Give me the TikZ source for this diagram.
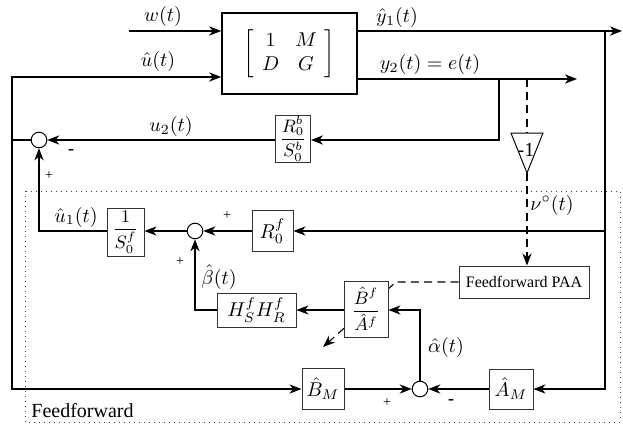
\documentclass[tikz,border=0pt]{standalone}
\usepackage{amsmath}
\usepackage[no-math]{fontspec}
\setmainfont{Liberation Serif}
\usetikzlibrary{arrows.meta,shapes.geometric}
\tikzset{
  wire/.style={line width=0.55pt},
  tip/.style={-{Stealth[length=6pt,width=4.6pt,inset=1.8pt]}},
  arr/.style={wire,tip},
  blk/.style={draw=black!80, line width=0.5pt, fill=white, inner sep=1pt},
  fracblk/.style={blk, inner sep=0.3pt, font=\fontsize{9}{10}\selectfont},
  sumnode/.style={circle, draw, line width=0.5pt, minimum size=7.8pt, inner sep=0pt, fill=white},
  sgn/.style={font=\fontsize{7}{8}\selectfont, inner sep=0pt},
  msgn/.style={font=\bfseries\fontsize{9}{10}\selectfont, inner sep=0pt},
  lbl/.style={inner sep=0pt},
  dsh/.style={wire, dash pattern=on 4pt off 2.6pt},
}
\begin{document}
\begin{tikzpicture}[x=0.5pt,y=-0.5pt]
\useasboundingbox (0,0) rectangle (623,428);

% feedforward frame
\draw[dotted, line width=0.5pt, black!75] (25,191) rectangle (620,422);
\node[anchor=west, inner sep=0pt] (fflbl) at (31,411) {Feedforward};

% plant
\node[draw, line width=0.8pt, minimum width=67.5pt, minimum height=40.5pt, inner sep=0pt] (plant) at (289.5,53.5)
  {$\arraycolsep=4pt\left[\begin{array}{cc}1 & M\\ D & G\end{array}\right]$};

% blocks
\node[fracblk, minimum width=17.5pt, minimum height=20.5pt] (rb) at (293,139) {$\dfrac{R_0^b}{S_0^b}$};
\node[sumnode] (sumA) at (39,140) {};
\node[fracblk, minimum width=18.5pt, minimum height=24pt] (sf) at (125.5,232) {$\dfrac{1}{S_0^f}$};
\node[sumnode] (sumB) at (195,231) {};
\node[blk, minimum width=20.5pt, minimum height=20.5pt] (rf) at (272.5,231) {$R_0^f$};
\node[blk, minimum width=39.5pt, minimum height=17pt] (hh) at (256.5,310) {$H_S^fH_R^f$};
\node[blk, minimum width=65pt, minimum height=16pt, font=\fontsize{8}{9}\selectfont] (paa) at (524,282) {Feedforward PAA};
\node[blk, minimum width=21pt, minimum height=20.5pt] (bm) at (323,389) {$\hat B_M$};
\node[sumnode] (sumC) at (420,389) {};
\node[blk, minimum width=22pt, minimum height=20pt] (am) at (511,389) {$\hat A_M$};

% inverter triangle
\coordinate (triT) at (527,133);
\coordinate (triA) at (527,173);
\draw[line width=0.5pt] (511,133) -- (543,133) -- (triA) -- cycle;
\node[lbl, font=\fontsize{10}{11}\selectfont] (trilbl) at (526,150) {-1};

% adaptation path (drawn under the adaptive block)
\coordinate (adK) at (396,282);
\coordinate (adE) at (323,347);
\draw[dsh,tip] (paa.west) -- (adK) -- (adE);
\node[fracblk, minimum width=22pt, minimum height=28pt] (baf) at (366,309) {$\dfrac{\hat B^f}{\hat A^f}$};

% coordinates
\coordinate (wIn) at (129,31);
\coordinate (uIn) at (12,77);
\coordinate (jL) at (12,140);
\coordinate (bmIn) at (12,389);
\coordinate (y1e) at (622,31);
\coordinate (jR) at (605,31);
\coordinate (eB) at (499,79);
\coordinate (eD) at (527,79);
\coordinate (y2e) at (577,79);
\coordinate (u1c) at (39,231);
\coordinate (bc) at (195,310);
\coordinate (ac) at (420,310);

% connectors
\draw[arr] (wIn) -- (wIn -| plant.west);
\draw[wire] (sumA.west) -- (jL);
\draw[arr] (jL) -- (uIn) -- (uIn -| plant.west);
\draw[arr] (jL) -- (bmIn) -- (bm.west);
\draw[arr] (plant.east |- jR) -- (y1e);
\draw[arr] (jR) |- (am.east);
\draw[arr] (jR |- rf) -- (rf.east);
\draw[arr] (plant.east |- eB) -- (y2e);
\draw[arr] (eB) |- (rb.east |- sumA);
\draw[arr] (rb.west |- sumA) -- (sumA.east);
\draw[dsh] (eD) -- (triT);
\draw[dsh,tip] (triA) -- (triA |- paa.north);
\draw[arr] (rf.west) -- (sumB.east);
\draw[arr] (sumB.west) -- (sf.east |- sumB);
\draw[arr] (sf.west |- sumB) -- (u1c) -- (sumA.south);
\draw[arr] (hh.west) -- (bc) -- (sumB.south);
\draw[arr] (baf.west |- hh) -- (hh.east);
\draw[arr] (sumC.north) -- (ac) -- (ac -| baf.east);
\draw[arr] (bm.east) -- (sumC.west);
\draw[arr] (am.west) -- (sumC.east);

% labels
\node[lbl] at (163,16) {$w(t)$};
\node[lbl] at (158,62) {$\hat u(t)$};
\node[lbl] at (397,18) {$\hat y_1(t)$};
\node[lbl] at (430,64) {$y_2(t)=e(t)$};
\node[lbl] at (171,127) {$u_2(t)$};
\node[lbl] at (552,205) {$\nu^{\circ}(t)$};
\node[lbl] at (76,217) {$\hat u_1(t)$};
\node[lbl] at (219,277) {$\hat\beta(t)$};
\node[lbl] at (446,347) {$\hat\alpha(t)$};

% signs
\node[msgn] at (71,152) {-};
\node[sgn] at (49,176) {+};
\node[sgn] at (227,216) {+};
\node[sgn] at (180,262) {+};
\node[sgn] at (387,403) {+};
\node[msgn] at (451,402) {-};
\end{tikzpicture}
\end{document}
